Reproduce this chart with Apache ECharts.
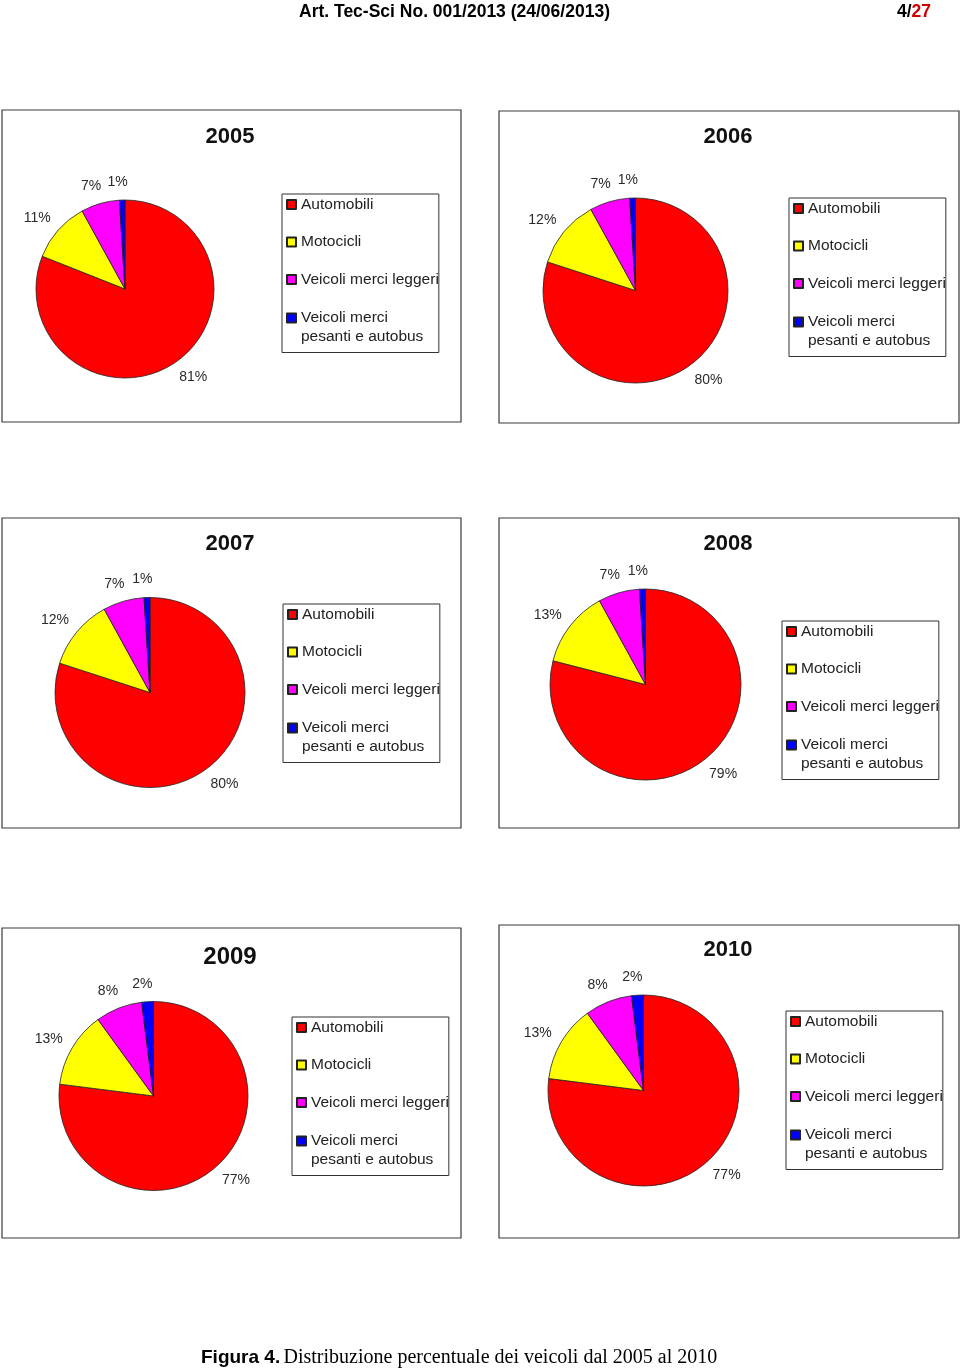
<!DOCTYPE html>
<html>
<head>
<meta charset="utf-8">
<title>Figura 4</title>
<script src="https://cdn.jsdelivr.net/npm/echarts@6/dist/echarts.min.js"></script>
<style>
  html, body { margin: 0; padding: 0; background: #fff; }
  #main { width: 960px; height: 1369px; }
</style>
</head>
<body>
<div id="main"></div>
<script>
// dati (percentuali)
var anni = ['2005', '2006', '2007', '2008', '2009', '2010'];
var categorie = ['Automobili', 'Motocicli', 'Veicoli merci leggeri', 'Veicoli merci\npesanti e autobus'];
var automobili = [81, 80, 80, 79, 77, 77];
var motocicli = [11, 12, 12, 13, 13, 13];
var merciLeggeri = [7, 7, 7, 7, 8, 8];
var merciPesanti = [1, 1, 1, 1, 2, 2];
var colori = ['#ff0000', '#ffff00', '#ff00ff', '#0000ff'];

// layout dei sei riquadri: box [x, y, w, h], torta [cx, cy, r], titolo [x, y, size], legenda [x, y]
var pannelli = [
  { box: [2, 110, 459, 312],   torta: [125, 289, 89],       titolo: [230, 137, 22], legenda: [282, 194] },
  { box: [499, 111, 460, 312], torta: [635.5, 290.5, 92.5], titolo: [728, 137, 22], legenda: [789, 198] },
  { box: [2, 518, 459, 310],   torta: [150, 692.5, 95],     titolo: [230, 544, 22], legenda: [283, 604] },
  { box: [499, 518, 460, 310], torta: [645.5, 684.5, 95.5], titolo: [728, 544, 22], legenda: [782, 621] },
  { box: [2, 928, 459, 310],   torta: [153.5, 1096, 94.5],  titolo: [230, 957, 24], legenda: [292, 1017] },
  { box: [499, 925, 460, 313], torta: [643.5, 1090.5, 95.5], titolo: [728, 950, 22], legenda: [786, 1011] }
];

var serie = [automobili, motocicli, merciLeggeri, merciPesanti];
var font = '"Liberation Sans", Arial, sans-serif';

var myChart = echarts.init(document.getElementById('main'));

var titoli = anni.map(function (a, i) {
  var t = pannelli[i].titolo;
  return {
    text: a,
    left: t[0],
    top: t[1],
    padding: 0,
    textAlign: 'center',
    textVerticalAlign: 'middle',
    textStyle: { fontFamily: font, fontWeight: 'bold', fontSize: t[2], color: '#111' }
  };
});

var legende = anni.map(function (a, i) {
  var l = pannelli[i].legenda;
  return {
    orient: 'vertical',
    left: l[0],
    top: l[1],
    padding: [1, 0, 8, 4],
    itemGap: 18.5,
    itemWidth: 9,
    itemHeight: 9,
    icon: 'rect',
    selectedMode: false,
    borderColor: '#333',
    borderWidth: 1,
    backgroundColor: '#fff',
    // la voce su due righe: la seconda riga non conta nell'altezza, cosi' l'icona resta sulla prima
    formatter: function (name) {
      var parti = name.split('\n');
      if (parti.length < 2) return name;
      return '{a|' + parti[0] + '}\n{b|' + parti[1] + '}';
    },
    textStyle: {
      fontFamily: font, fontSize: 15.5, lineHeight: 19, color: '#222',
      rich: {
        a: { fontFamily: font, fontSize: 15.5, lineHeight: 21, color: '#222' },
        b: { fontFamily: font, fontSize: 15.5, lineHeight: 0.1, verticalAlign: 'top', color: '#222' }
      }
    },
    data: categorie
  };
});

var torte = anni.map(function (a, i) {
  var p = pannelli[i].torta;
  return {
    type: 'pie',
    name: a,
    center: [p[0], p[1]],
    radius: p[2],
    startAngle: 90,
    clockwise: true,
    avoidLabelOverlap: false,
    animation: false,
    emphasis: { disabled: true },
    itemStyle: { borderColor: '#222', borderWidth: 0.8 },
    label: {
      position: 'outside',
      formatter: '{c}%',
      fontFamily: font,
      fontSize: 14,
      color: '#2a2a2a',
      distanceToLabelLine: -6
    },
    labelLine: { show: false, length: 18, length2: 0 },
    data: categorie.map(function (c, k) {
      return { name: c, value: serie[k][i], itemStyle: { color: colori[k] } };
    })
  };
});

var cornici = pannelli.map(function (p) {
  return {
    type: 'rect',
    shape: { x: p.box[0], y: p.box[1], width: p.box[2], height: p.box[3] },
    style: { fill: 'none', stroke: '#3a3a3a', lineWidth: 1.2 }
  };
});

myChart.setOption({
  backgroundColor: '#fff',
  animation: false,
  title: titoli,
  legend: legende,
  series: torte,
  graphic: cornici.concat([
    {
      type: 'text', x: 299, y: 12,
      style: { text: 'Art. Tec-Sci No. 001/2013 (24/06/2013)', fontFamily: font, fontSize: 17.5, fontWeight: 'bold', fill: '#000', verticalAlign: 'middle' }
    },
    {
      type: 'text', x: 931, y: 12,
      style: {
        text: '{a|4/}{b|27}', align: 'right', verticalAlign: 'middle',
        rich: {
          a: { fontFamily: font, fontSize: 17.5, fontWeight: 'bold', fill: '#000' },
          b: { fontFamily: font, fontSize: 17.5, fontWeight: 'bold', fill: '#d00000' }
        }
      }
    },
    {
      type: 'text', x: 201, y: 1358,
      style: {
        text: '{b|Figura 4.} {s|Distribuzione percentuale dei veicoli dal 2005 al 2010}',
        verticalAlign: 'middle',
        rich: {
          b: { fontFamily: font, fontSize: 19, fontWeight: 'bold', fill: '#000' },
          s: { fontFamily: '"Liberation Serif", "Times New Roman", serif', fontSize: 20, fill: '#000' }
        }
      }
    }
  ])
});
</script>
</body>
</html>
